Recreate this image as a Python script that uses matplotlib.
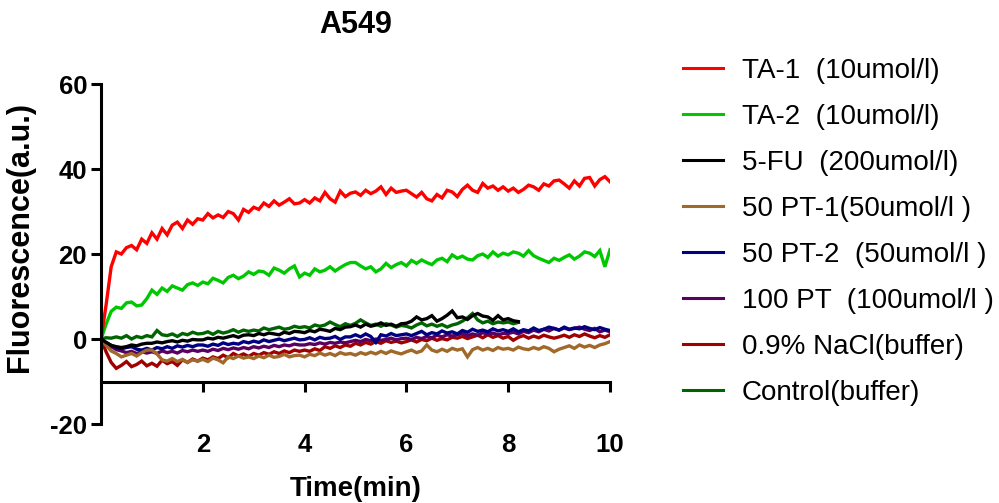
import numpy as np
import matplotlib.pyplot as plt

plt.rcParams['font.family'] = ['Liberation Sans', 'DejaVu Sans']
plt.rcParams['axes.unicode_minus'] = False

# time axis (min), one reading every 0.1 min
t_full = np.round(np.arange(0, 10.01, 0.1), 1)
t_short = t_full[:83]  # 5-FU and Control stop near 8.2 min

labels = ['TA-1  (10umol/l)', 'TA-2  (10umol/l)', '5-FU  (200umol/l)',
          '50 PT-1(50umol/l )', '50 PT-2  (50umol/l )', '100 PT  (100umol/l )',
          '0.9% NaCl(buffer)', 'Control(buffer)']
colors = ['#ff0000', '#00c800', '#000000', '#a0692a', '#000080', '#5a0060',
          '#a00000', '#006400']

ta1 = [0, 8, 17, 20.5, 20, 21.5, 22, 21, 23.5, 22.5,
       25, 23.5, 26, 24.5, 26.8, 27.5, 26, 28, 27, 28.3,
       28, 29.5, 28.5, 29.2, 28.6, 30, 29.5, 28, 30.5, 29.8,
       31, 30.5, 32, 31.2, 32.5, 31.5, 32.2, 33, 31.8, 32,
       32.8, 32, 33.2, 32.5, 34.5, 33, 32.2, 34.8, 33.5, 34.3,
       34.6, 33.8, 35, 34.2, 34.8, 35.8, 34, 35.5, 34.5, 34.8,
       35, 34.2, 33.4, 34.5, 33, 32.5, 34, 33.2, 35, 34.6,
       33.5, 35.2, 36.2, 35, 34.5, 36.6, 35.5, 36, 35, 35.8,
       34.8, 35.5, 34.5, 35.2, 36.2, 35.8, 35, 36.5, 36, 37.2,
       37.4, 36.5, 35.5, 37.2, 36, 37.8, 38, 36, 37.5, 38.2,
       37]
ta2 = [0, 3.5, 6.5, 7.5, 7.2, 8.5, 8.7, 7.8, 8, 9.5,
       11.5, 10.5, 12, 11.2, 12.5, 12, 11.5, 12.8, 13.2, 12.6,
       13.4, 13, 14.3, 13.8, 13.2, 14.5, 15, 14.2, 14.8, 15.8,
       15.2, 16, 15.8, 15, 16.7, 16.2, 15.5, 16.5, 17.2, 14.6,
       15.5, 15, 16.5, 15.8, 16.2, 17, 16, 16.8, 17.5, 18,
       18, 17.2, 16.5, 17, 15.8, 16.5, 17.8, 16.8, 17.5, 18,
       17.2, 18.5, 17.8, 18.6, 18, 17.5, 18.6, 19, 18.2, 19.8,
       19, 19.5, 18.8, 18.6, 19.6, 20, 19.2, 20.5, 19.5, 20.2,
       19.8, 20.5, 20.2, 19.5, 20.8, 19.6, 19, 18.5, 18, 19,
       18.5, 19.2, 19.8, 18.8, 19.5, 20.5, 20.2, 19.4, 20.8, 17,
       21]
fu5 = [0, -0.8, -1.5, -1.8, -2, -1.8, -1.4, -1.6, -1.2, -1,
       -1, -0.7, -0.9, -0.6, -0.4, -0.7, -0.3, -0.5, -0.1, -0.2,
       -0.2, 0.2, 0, 0.4, 0.2, 0.5, 0.8, 0.4, 0.9, 1,
       0.8, 1.3, 1, 1.4, 1.2, 1, 1.6, 1.3, 1.8, 1.7,
       1.5, 2, 1.7, 2.3, 2.1, 1.8, 2.5, 2.2, 2.8, 2.9,
       3.3, 2.8, 3.5, 3, 3.3, 3.8, 3.2, 3.5, 3, 3.6,
       3.7, 4.2, 5.2, 4.5, 4.8, 5.5, 4.2, 4.8, 5.6, 6.6,
       5, 5.2, 4.6, 5.5, 6, 5.4, 5.2, 4.4, 5.5, 4.5,
       4.8, 4.3, 4.1]
pt1_50 = [0, -1.5, -2.8, -3.4, -4.2, -3.8, -3.4, -4, -3.2, -2.6,
          -2.6, -3.5, -4.9, -5.2, -4.6, -5.3, -4.8, -5.5, -4.9, -5.2,
          -4.8, -5.3, -4.5, -4.9, -5.6, -4.2, -4.6, -4, -4.5, -4.2,
          -4.6, -4, -4.4, -3.8, -4.3, -4.1, -3.6, -4.2, -3.9, -3.8,
          -4.2, -3.6, -3.9, -3.3, -3.8, -3.4, -3.9, -3.2, -3.6, -3.4,
          -3.8, -3.2, -3.6, -3.1, -3.5, -2.9, -3.4, -2.8, -3.2, -3.5,
          -3, -2.6, -3.2, -2.8, -1.4, -2.6, -3, -2.4, -2.9, -2.2,
          -2.6, -2.3, -4.2, -2.5, -2, -2.6, -2.2, -2.7, -2, -2.4,
          -2.2, -2.6, -1.9, -2.3, -2.5, -2, -2.4, -1.8, -2.2, -3,
          -2.4, -2, -1.6, -2.2, -1.4, -1.9, -1.5, -2, -1.4, -1.1,
          -0.6]
pt2_50 = [0, -0.8, -1.5, -2, -2.3, -2, -1.8, -2.4, -2.6, -2.2,
          -2.6, -2, -2.3, -1.8, -2.2, -1.6, -1.9, -1.5, -1.8, -1.4,
          -1.4, -1.7, -1.2, -1.5, -0.9, -1.3, -1, -1.2, -0.6, -0.9,
          -0.5, -0.8, -0.2, -0.6, -0.3, 0, -0.4, -0.1, 0.2, -0.2,
          -0.1, 0.3, -0.2, 0.4, 0.1, 0.2, 0.6, -0.1, 0.5, 0.5,
          1, 0.5, 1.2, 0.6, -0.8, 1, 0.7, 1.3, 0.8, 1,
          1.2, 0.8, 1.3, 1.8, 1, 1.5, 1.2, 1.9, 1.4, 1.7,
          1.2, 2, 1.6, 2.3, 1.8, 2.1, 1.7, 2.4, 1.9, 2.2,
          1.8, 2.4, 1.7, 2.2, 1.9, 2.6, 2, 2.3, 2.8, 2.5,
          2.1, 2.8, 2.3, 2.6, 2.4, 2.9, 2.5, 2.2, 2.7, 2.3,
          2]
pt_100 = [0, -1, -1.8, -2.5, -2.8, -3.2, -2.9, -3.4, -3, -3.3,
          -3, -3.4, -2.8, -3.2, -2.9, -3.3, -2.7, -3, -2.6, -2.9,
          -2.6, -2.9, -2.4, -2.7, -2.2, -2.5, -2.1, -2.4, -2, -2.3,
          -1.8, -2.1, -1.7, -2, -1.5, -1.8, -1.4, -1.6, -1.2, -1.4,
          -1.4, -1.1, -1.3, -0.9, -1.2, -0.8, -1, -0.7, -0.9, -0.6,
          -0.3, -0.6, -0.1, -0.4, 0, -0.3, -0.1, 0.2, -0.2, 0.1,
          0.2, -0.1, 0.4, 0.1, 0.6, 0.3, 0.9, 0.5, 1, 0.7,
          1, 1.3, 0.8, 1.2, 0.9, 1.5, 1.1, 1.4, 1, 1.3,
          1.3, 1.6, 1.2, 1.8, 1.5, 2.1, 1.7, 2.3, 1.9, 2.5,
          2.1, 2.6, 2.2, 2.5, 2.8, 2.3, 2, 2.5, 1.7, 2.1,
          1.7]
nacl = [0, -3, -5.5, -6.9, -6.2, -5.3, -6.5, -6, -5.2, -6.3,
        -5.7, -6.4, -5, -5.8, -5.3, -6.2, -4.9, -5.5, -4.7, -5.2,
        -4.5, -4.9, -4.2, -4.6, -3.8, -4.4, -3.4, -4, -3.5, -4.1,
        -3.4, -3.8, -3.2, -3.6, -3, -3.4, -2.8, -3.2, -2.6, -2.9,
        -2.6, -2.9, -2.3, -2.7, -1.8, -2.2, -1.6, -2, -1.4, -1.7,
        -1, -1.4, -0.8, -1.2, -0.6, -1, -0.4, -0.8, -0.5, -0.9,
        -0.6, -0.2, -0.7, -0.1, -0.4, 0.2, -0.3, 0.1, -0.2, 0.4,
        0.2, 0.6, 0.1, 0.5, 0.9, 0.3, 1, 0.4, 0.8, 0.2,
        0.6, -0.3, 0.4, 0.8, 0.2, 0.7, 0.3, 0.9, 0.5, 0.2,
        0.5, 0.9, 0.4, 1, 0.6, 1.2, 0.7, 0.3, 0.8, 0.4,
        1]
control = [0, 0.3, 0.2, 0.5, 0.2, 0.8, 0, 0.6, 0.3, 0.8,
           0.5, 2, 1, 0.8, 1.2, 0.6, 1.3, 1, 1.6, 1.2,
           1.3, 1.7, 1.1, 1.8, 1.4, 1.7, 2.2, 1.6, 2.1, 1.8,
           2.1, 1.9, 2.6, 2.2, 2.5, 2.8, 2.3, 2.5, 3, 2.7,
           2.9, 2.6, 3.3, 3, 3.3, 4, 3.4, 2.9, 3.6, 3.2,
           3.7, 4.5, 3.8, 3.2, 3.5, 3, 3.6, 3.3, 2.8, 3.2,
           3, 2.6, 3.3, 3.8, 3.1, 3.5, 3, 3.4, 2.8, 3.3,
           3.6, 4.2, 5, 6, 4.5, 3.8, 4.2, 3.6, 4, 3.8,
           4, 3.6, 3.9]

series = [ta1, ta2, fu5, pt1_50, pt2_50, pt_100, nacl, control]

fig = plt.figure(figsize=(9.99, 5.03), dpi=100)
ax = fig.add_axes([0.1011, 0.157, 0.5095, 0.676])

handles = [None] * len(series)
# draw Control first so the drug curves end up on top
for i in reversed(range(len(series))):
    y = series[i]
    x = t_full if len(y) == len(t_full) else t_short
    h, = ax.plot(x, y, color=colors[i], lw=2.4, label=labels[i], solid_joinstyle='miter')
    handles[i] = h

ax.set_xlim(0, 10)
ax.set_ylim(-20, 60)
ax.set_xticks([2, 4, 6, 8, 10])
ax.set_yticks([-20, 0, 20, 40, 60])

ax.spines['top'].set_visible(False)
ax.spines['right'].set_visible(False)
ax.spines['bottom'].set_position(('data', -10))
for s in ['left', 'bottom']:
    ax.spines[s].set_linewidth(2.2)

ax.tick_params(axis='both', width=2.2, length=7, labelsize=18.5)
ax.tick_params(axis='x', pad=30)
ax.tick_params(axis='y', pad=3)
for lab in ax.get_xticklabels() + ax.get_yticklabels():
    lab.set_fontweight('bold')

ax.set_title('A549', fontsize=22, fontweight='bold', pad=37)
ax.set_xlabel('Time(min)', fontsize=20, fontweight='bold', labelpad=14)
ax.set_ylabel('Fluorescence(a.u.)', fontsize=22, fontweight='bold')
ax.yaxis.set_label_coords(-0.13, 0.55)

leg = ax.legend(handles=handles, loc='upper left', bbox_to_anchor=(1.143, 1.076),
                frameon=False, fontsize=20, handlelength=1.45, handletextpad=0.68,
                labelspacing=0.72, borderaxespad=0, borderpad=0)
for line in leg.get_lines():
    line.set_linewidth(2.2)

fig.savefig('out.png', dpi=100)
